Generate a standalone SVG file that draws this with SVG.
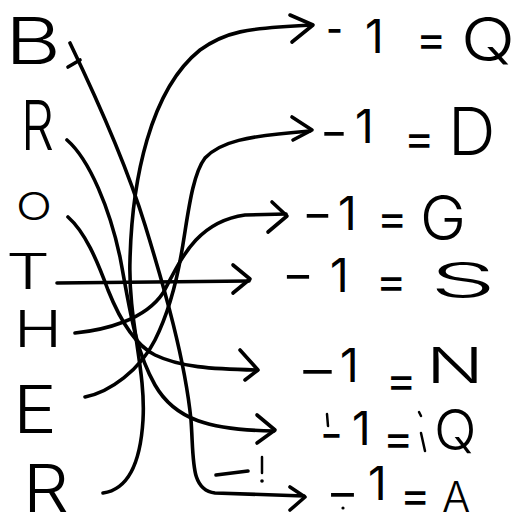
<svg xmlns="http://www.w3.org/2000/svg" width="525" height="529" viewBox="0 0 525 529">
<style>
.lt{font-family:Inter,"Open Sans","Liberation Sans",Arial,sans-serif;font-weight:300;fill:#000}
.rw{font-family:Inter,"Open Sans","Liberation Sans",Arial,sans-serif;font-weight:400;fill:#000;font-size:46px}
.bg{font-weight:300}
.c{fill:none;stroke:#000;stroke-width:3.6;stroke-linecap:round;stroke-linejoin:round}
.m{fill:none;stroke:#000;stroke-width:2.5;stroke-linecap:round}
</style>
<rect width="525" height="529" fill="#fff"/>
<g id="left-letters">
<g id="letter-B"><text class="lt" x="5" y="64" font-size="64" textLength="56" lengthAdjust="spacingAndGlyphs">B</text></g>
<g id="letter-R1"><text class="lt" x="21" y="150" font-size="68" textLength="33" lengthAdjust="spacingAndGlyphs">R</text></g>
<g id="letter-O"><text class="lt" x="16" y="220" font-size="38" textLength="36" lengthAdjust="spacingAndGlyphs">O</text></g>
<g id="letter-T"><text class="lt" x="6" y="289" font-size="49" textLength="44" lengthAdjust="spacingAndGlyphs">T</text></g>
<g id="letter-H"><text class="lt" x="14" y="347" font-size="51" textLength="48" lengthAdjust="spacingAndGlyphs">H</text></g>
<g id="letter-E"><text class="lt" x="13" y="433" font-size="66" textLength="44" lengthAdjust="spacingAndGlyphs">E</text></g>
<g id="letter-R2"><text class="lt" x="23" y="512" font-size="66" textLength="46" lengthAdjust="spacingAndGlyphs">R</text></g>
</g>
<g id="connectors">
<path id="c-R2-Q" class="c" d="M103,493 C125,490 140,470 143,420 C146,370 128,320 130,260 C132,180 150,90 200,50 C225,32 245,28 312,25"/>
<polyline class="c" points="290,15 313,25 292,42"/>
<path id="c-E-D" class="c" d="M85,397 C110,392 140,370 155,340 C170,310 177,280 182,250 C188,215 192,175 205,158 C220,142 245,136 310,131"/>
<polyline class="c" points="292,117 312,130 293,140"/>
<path id="c-H-G" class="c" d="M75,333 C105,330 145,320 163,293 C180,262 195,222 245,215 L286,214"/>
<polyline class="c" points="272,202 287,216 268,232"/>
<path id="c-T-S" class="c" d="M57,283 L249,281"/>
<polyline class="c" points="233,265 250,279 233,293"/>
<path id="c-O-N" class="c" d="M68,217 C85,232 97,260 108,290 C120,320 135,345 155,355 C180,367 210,369 257,370"/>
<polyline class="c" points="240,350 258,370 245,380"/>
<path id="c-R1-Q" class="c" d="M67,140 C90,160 110,210 120,257 C130,310 135,350 155,385 C175,420 210,430 274,431"/>
<polyline class="c" points="257,415 275,430 257,443"/>
<path id="c-B-A" class="c" d="M70,43 C95,95 125,160 145,225 C165,290 185,360 191,420 C194,460 190,490 215,493 L304,496"/>
<polyline class="c" points="290,487 305,497 290,510"/>
<path class="c" d="M68,67 L80,60"/>
<path class="c" d="M216,475 L248,471"/>
<path class="m" d="M262,457 L262,473"/>
<circle cx="262" cy="481" r="1.8" fill="#000"/>
</g>
<g id="results">
<g id="row-Q1"><text class="rw"><tspan x="326" y="45" textLength="17" lengthAdjust="spacingAndGlyphs">-</tspan><tspan x="365" y="53">1</tspan> <tspan x="416" y="55">=</tspan> <tspan class="bg" x="461" y="61" font-size="60" textLength="54" lengthAdjust="spacingAndGlyphs">Q</tspan></text></g>
<g id="row-D"><text class="rw"><tspan x="320" y="148" textLength="28" lengthAdjust="spacingAndGlyphs">-</tspan><tspan x="355" y="143">1</tspan> <tspan x="404" y="154">=</tspan> <tspan class="bg" x="448" y="155" font-size="66">D</tspan></text></g>
<g id="row-G"><text class="rw"><tspan x="302" y="230" textLength="31" lengthAdjust="spacingAndGlyphs">-</tspan><tspan x="338" y="230">1</tspan> <tspan x="377" y="234">=</tspan> <tspan class="bg" x="420" y="240" font-size="62">G</tspan></text></g>
<g id="row-S"><text class="rw"><tspan x="282" y="291" textLength="32" lengthAdjust="spacingAndGlyphs">-</tspan><tspan x="330" y="292">1</tspan> <tspan x="376" y="297">=</tspan> <tspan class="bg" x="430" y="297" font-size="48" textLength="66" lengthAdjust="spacingAndGlyphs">S</tspan></text></g>
<g id="row-N"><text class="rw"><tspan x="297" y="386" textLength="41" lengthAdjust="spacingAndGlyphs">-</tspan><tspan x="340" y="382">1</tspan> <tspan x="386" y="396">=</tspan> <tspan class="bg" x="426" y="383" font-size="49" textLength="58" lengthAdjust="spacingAndGlyphs">N</tspan></text></g>
<g id="row-Q2"><text class="rw"><tspan x="320" y="450" textLength="23" lengthAdjust="spacingAndGlyphs">-</tspan><tspan x="352" y="445">1</tspan> <tspan x="383" y="454">=</tspan> <tspan class="bg" x="434" y="450" font-size="56">Q</tspan></text>
<path class="m" d="M327,414 L328,426"/><path class="m" d="M419,412 L421,416 M421,433 L425,451"/></g>
<g id="row-A"><text class="rw"><tspan x="326" y="509" textLength="33" lengthAdjust="spacingAndGlyphs">-</tspan><tspan x="368" y="500">1</tspan> <tspan x="400" y="511">=</tspan> <tspan class="bg" x="442" y="512" font-size="42">A</tspan></text>
<circle cx="343" cy="508" r="1.6" fill="#000"/></g>
</g>
</svg>
